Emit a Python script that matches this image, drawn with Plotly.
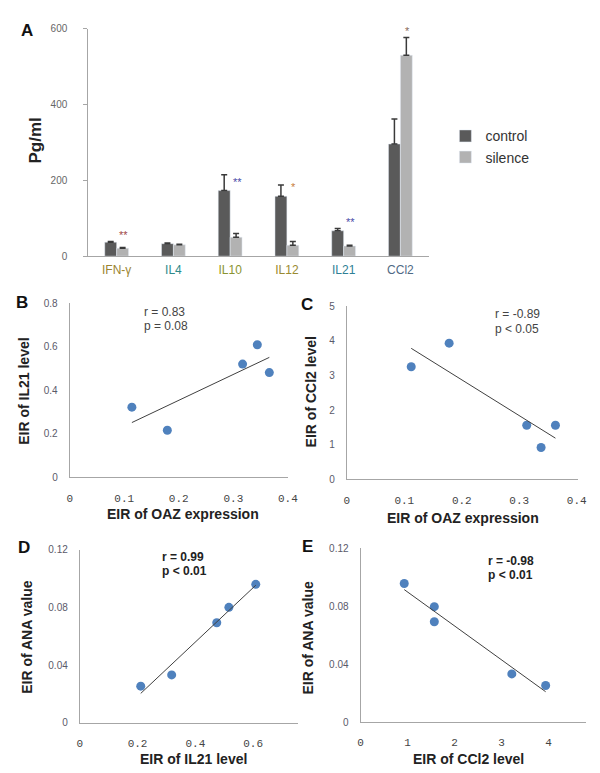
import numpy as np
import plotly.graph_objects as go

# ---------------- Data ----------------
cytokines = ["IFN-γ", "IL4", "IL10", "IL12", "IL21", "CCl2"]
label_colors = ["#9a8430", "#2f8a8a", "#8a9430", "#9a8a30", "#2f7f95", "#4f6a85"]
control = [37, 33, 173, 158, 67, 296]
control_err = [1.5, 1.5, 42, 30, 6, 66]
silence = [21, 30, 50, 29, 27, 530]
silence_err = [2, 1.5, 10, 10, 2, 47]
stars = ["**", "", "**", "*", "**", "*"]
star_colors = ["#a04848", "#ffffff", "#4b4ba8", "#c88040", "#4b4ba8", "#8a6a5a"]
star_y = [57, 0, 197, 182, 91, 595]

oaz = [0.114, 0.179, 0.317, 0.344, 0.366]
il21_b = [0.323, 0.217, 0.521, 0.610, 0.482]
oaz_c = [0.112, 0.178, 0.313, 0.338, 0.363]
ccl2_c = [3.25, 3.93, 1.56, 0.92, 1.56]
il21_d = [0.211, 0.318, 0.474, 0.516, 0.609]
ana_d = [0.0254, 0.0332, 0.0693, 0.080, 0.0959]
ccl2_e = [0.93, 1.57, 1.57, 3.22, 3.94]
ana_e = [0.0957, 0.0797, 0.0693, 0.0333, 0.0253]

W, H = 600, 773


def px(x):
    return x / W


def py(y):
    return 1 - y / H


fig = go.Figure()

# ---------------- Panel A ----------------
fig.add_trace(go.Bar(
    x=cytokines, y=control, name="control", marker_color="#5a5a5a",
    error_y=dict(type="data", array=control_err, arrayminus=[0] * 6, symmetric=False,
                 color="#3a3a3a", thickness=1.5, width=3),
    xaxis="x", yaxis="y"))
fig.add_trace(go.Bar(
    x=cytokines, y=silence, name="silence", marker_color="#b2b2b2",
    error_y=dict(type="data", array=silence_err, arrayminus=[0] * 6, symmetric=False,
                 color="#3a3a3a", thickness=1.5, width=3),
    xaxis="x", yaxis="y"))

for c, s, sc, sy in zip(cytokines, stars, star_colors, star_y):
    if s:
        fig.add_annotation(x=c, y=sy, xref="x", yref="y", text=s, showarrow=False,
                           xshift=7, font=dict(size=11, color=sc, family="Liberation Sans"))

gray_axis = "#a6a6a6"
tickfont_small = dict(size=10, color="#5a5a6a", family="Liberation Sans")
mono = dict(size=11, color="#444444", family="Liberation Mono")


def scatter_panel(xs, ys, xa, ya):
    fig.add_trace(go.Scatter(x=xs, y=ys, mode="markers", xaxis=xa, yaxis=ya,
                             marker=dict(size=9, color="#4f81bd"), showlegend=False))
    k, b = np.polyfit(xs, ys, 1)
    lx = [min(xs), max(xs)]
    fig.add_trace(go.Scatter(x=lx, y=[k * v + b for v in lx], mode="lines",
                             xaxis=xa, yaxis=ya, line=dict(color="#404040", width=1),
                             showlegend=False, hoverinfo="skip"))


scatter_panel(oaz, il21_b, "x2", "y2")
scatter_panel(oaz_c, ccl2_c, "x3", "y3")
scatter_panel(il21_d, ana_d, "x4", "y4")
scatter_panel(ccl2_e, ana_e, "x5", "y5")


def sc_xaxis(dom, anchor, rng, tv, tt):
    return dict(domain=dom, anchor=anchor, range=rng, showgrid=False, zeroline=False,
                showline=True, linecolor=gray_axis, linewidth=1, ticks="",
                tickvals=tv, ticktext=tt, tickfont=mono, ticklabelstandoff=10,
                fixedrange=True)


def sc_yaxis(dom, anchor, rng, tv, tt):
    return dict(domain=dom, anchor=anchor, range=rng, showgrid=False, zeroline=False,
                showline=True, linecolor=gray_axis, linewidth=1, ticks="",
                tickvals=tv, ticktext=tt, tickfont=tickfont_small, ticklabelstandoff=9,
                fixedrange=True)


fig.update_layout(
    width=W, height=H, margin=dict(l=0, r=0, t=0, b=0),
    paper_bgcolor="white", plot_bgcolor="white",
    barmode="group", bargap=0.58, bargroupgap=0.0,
    font=dict(family="Liberation Sans", color="#333333"),
    showlegend=True,
    legend=dict(x=px(444), y=py(108), xanchor="left", yanchor="top",
                font=dict(size=14, color="#333333", family="Liberation Sans"),
                bgcolor="rgba(0,0,0,0)", tracegroupgap=4, itemwidth=30),
    xaxis=dict(domain=[px(79), px(427)], anchor="y", showgrid=False, zeroline=False,
               showline=True, linecolor=gray_axis, linewidth=1, ticks="",
               tickfont=dict(size=12, family="Liberation Sans"), ticklabelstandoff=2,
               tickvals=cytokines, ticktext=[f"<span style='color:{c}'>{t}</span>" for t, c in zip(cytokines, label_colors)],
               fixedrange=True),
    yaxis=dict(domain=[py(246), py(15)], anchor="x", range=[0, 600], showgrid=False,
               zeroline=False, showline=True, linecolor=gray_axis, linewidth=1,
               ticks="outside", ticklen=4, tickcolor=gray_axis, tickvals=[0, 200, 400, 600],
               tickfont=dict(size=10, color="#666666", family="Liberation Sans"),
               ticklabelstandoff=14, fixedrange=True),
    xaxis2=sc_xaxis([px(60), px(283)], "y2", [0, 0.4], [0, 0.1, 0.2, 0.3, 0.4],
                    ["0", "0.1", "0.2", "0.3", "0.4"]),
    yaxis2=sc_yaxis([py(470.7), py(294)], "x2", [0, 0.8], [0, 0.2, 0.4, 0.6, 0.8],
                    ["0", "0.2", "0.4", "0.6", "0.8"]),
    xaxis3=sc_xaxis([px(343.3), px(580)], "y3", [0, 0.403], [0, 0.1, 0.2, 0.3, 0.4],
                    ["0", "0.1", "0.2", "0.3", "0.4"]),
    yaxis3=sc_yaxis([py(472.7), py(296.7)], "x3", [0, 5], [0, 1, 2, 3, 4, 5],
                    ["0", "1", "2", "3", "4", "5"]),
    xaxis4=sc_xaxis([px(70.3), px(293)], "y4", [0, 0.754], [0, 0.2, 0.4, 0.6],
                    ["0", "0.2", "0.4", "0.6"]),
    yaxis4=sc_yaxis([py(720), py(544)], "x4", [0, 0.12], [0, 0.04, 0.08, 0.12],
                    ["0", "0.04", "0.08", "0.12"]),
    xaxis5=sc_xaxis([px(357.3), px(587.3)], "y5", [0, 4.79], [0, 1, 2, 3, 4],
                    ["0", "1", "2", "3", "4"]),
    yaxis5=sc_yaxis([py(719.3), py(542.7)], "x5", [0, 0.12], [0, 0.04, 0.08, 0.12],
                    ["0", "0.04", "0.08", "0.12"]),
)


def ann(x, y, text, size=14, bold=True, angle=0, color="#222222", xanchor="center"):
    t = f"<b>{text}</b>" if bold else text
    fig.add_annotation(x=px(x), y=py(y), xref="paper", yref="paper", text=t,
                       showarrow=False, textangle=angle, xanchor=xanchor, yanchor="middle",
                       font=dict(size=size, color=color, family="Liberation Sans"))


# panel letters
ann(16, 17, "A", size=17, color="#111111")
ann(11, 293, "B", size=17, color="#111111")
ann(303, 295, "C", size=17, color="#111111")
ann(13, 542, "D", size=17, color="#111111")
ann(303, 541, "E", size=17, color="#111111")

# axis titles
ann(25, 128, "Pg/ml", size=17, angle=-90)
ann(13, 383, "EIR of IL21 level", size=14, angle=-90)
ann(176, 508, "EIR of OAZ expression", size=14)
ann(307, 384, "EIR of CCl2 level", size=14, angle=-90)
ann(462, 512, "EIR of OAZ expression", size=14)
ann(17, 633, "EIR of ANA value", size=14, angle=-90)
ann(187, 757, "EIR of IL21 level", size=14)
ann(304, 633, "EIR of ANA value", size=14, angle=-90)
ann(468, 757, "EIR of CCl2 level", size=14)

# correlation texts
ann(134, 302.5, "r = 0.83", size=12, bold=False, color="#444444", xanchor="left")
ann(134, 316.5, "p = 0.08", size=12, bold=False, color="#444444", xanchor="left")
ann(493, 305, "r = -0.89", size=12, bold=False, color="#444444", xanchor="left")
ann(493, 320, "p < 0.05", size=12, bold=False, color="#444444", xanchor="left")
ann(152, 551.5, "r = 0.99", size=12, color="#222222", xanchor="left")
ann(152, 565.5, "p < 0.01", size=12, color="#222222", xanchor="left")
ann(486, 556, "r = -0.98", size=12, color="#222222", xanchor="left")
ann(486, 570, "p < 0.01", size=12, color="#222222", xanchor="left")

fig.write_html("out.html")
